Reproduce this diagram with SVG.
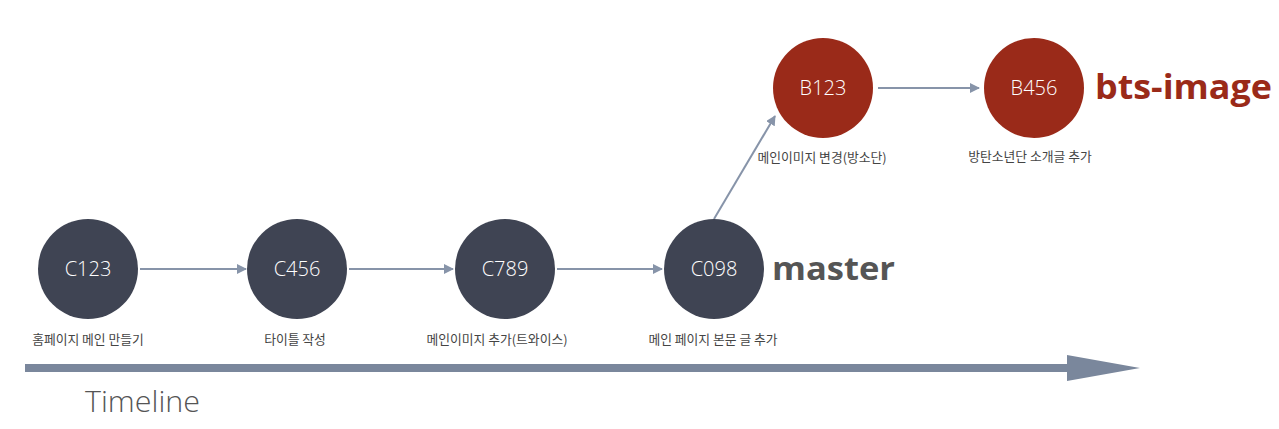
<svg xmlns="http://www.w3.org/2000/svg" width="1279" height="429" viewBox="0 0 1279 429">
<style>
.c{fill:#3f4453}
.b{fill:#9a2a19}
.nt{font-family:"Open Sans","Liberation Sans",sans-serif;font-size:20px;fill:#fff;text-anchor:middle;font-weight:300}
.lb{font-family:"Noto Sans CJK KR","Noto Sans",sans-serif;font-size:12.8px;fill:#444;text-anchor:middle}
.e{stroke:#8794a9;stroke-width:2;fill:none}
.br{font-family:"Open Sans","Liberation Sans",sans-serif;font-weight:bold}
</style>
<defs>
<marker id="ah" viewBox="0 0 10 10" refX="9" refY="5" markerWidth="5" markerHeight="5" orient="auto" markerUnits="strokeWidth">
<path d="M0,0 L10,5 L0,10 z" fill="#8794a9"/>
</marker>
</defs>
<rect width="1279" height="429" fill="#fff"/>
<g id="connectors">
<line class="e" x1="140" y1="269" x2="246" y2="269" marker-end="url(#ah)"/>
<line class="e" x1="349" y1="269" x2="453" y2="269" marker-end="url(#ah)"/>
<line class="e" x1="557" y1="269" x2="662" y2="269" marker-end="url(#ah)"/>
<line class="e" x1="714" y1="219" x2="775" y2="116" marker-end="url(#ah)"/>
<line class="e" x1="878" y1="88" x2="979" y2="88" marker-end="url(#ah)"/>
</g>
<g id="timeline">
<rect x="25" y="364" width="1044" height="8" fill="#7a879c"/>
<polygon points="1067,355 1140,368 1067,381" fill="#7a879c"/>
<text x="85" y="412" font-family="Open Sans,Liberation Sans,sans-serif" font-size="30" font-weight="300" fill="#555" textLength="115" lengthAdjust="spacingAndGlyphs">Timeline</text>
</g>
<g id="C123"><circle class="c" cx="88" cy="269" r="50"/><text class="nt" x="88" y="276">C123</text><text class="lb" x="88" y="344">홈페이지 메인 만들기</text></g>
<g id="C456"><circle class="c" cx="297" cy="269" r="50"/><text class="nt" x="297" y="276">C456</text><text class="lb" x="295" y="344">타이틀 작성</text></g>
<g id="C789"><circle class="c" cx="505" cy="269" r="50"/><text class="nt" x="505" y="276">C789</text><text class="lb" x="497" y="344">메인이미지 추가(트와이스)</text></g>
<g id="C098"><circle class="c" cx="714" cy="269" r="50"/><text class="nt" x="714" y="276">C098</text><text class="lb" x="713" y="344">메인 페이지 본문 글 추가</text></g>
<g id="master"><text class="br" x="772" y="280" font-size="32" fill="#555" textLength="123" lengthAdjust="spacingAndGlyphs">master</text></g>
<g id="B123"><circle class="b" cx="823" cy="88" r="50"/><text class="nt" x="823" y="95">B123</text><text class="lb" x="822" y="162">메인이미지 변경(방소단)</text></g>
<g id="B456"><circle class="b" cx="1034" cy="88" r="50"/><text class="nt" x="1034" y="95">B456</text><text class="lb" x="1030" y="161">방탄소년단 소개글 추가</text></g>
<g id="bts-image"><text class="br" x="1095" y="99" font-size="34" fill="#9a2a19" textLength="177" lengthAdjust="spacingAndGlyphs">bts-image</text></g>
</svg>
